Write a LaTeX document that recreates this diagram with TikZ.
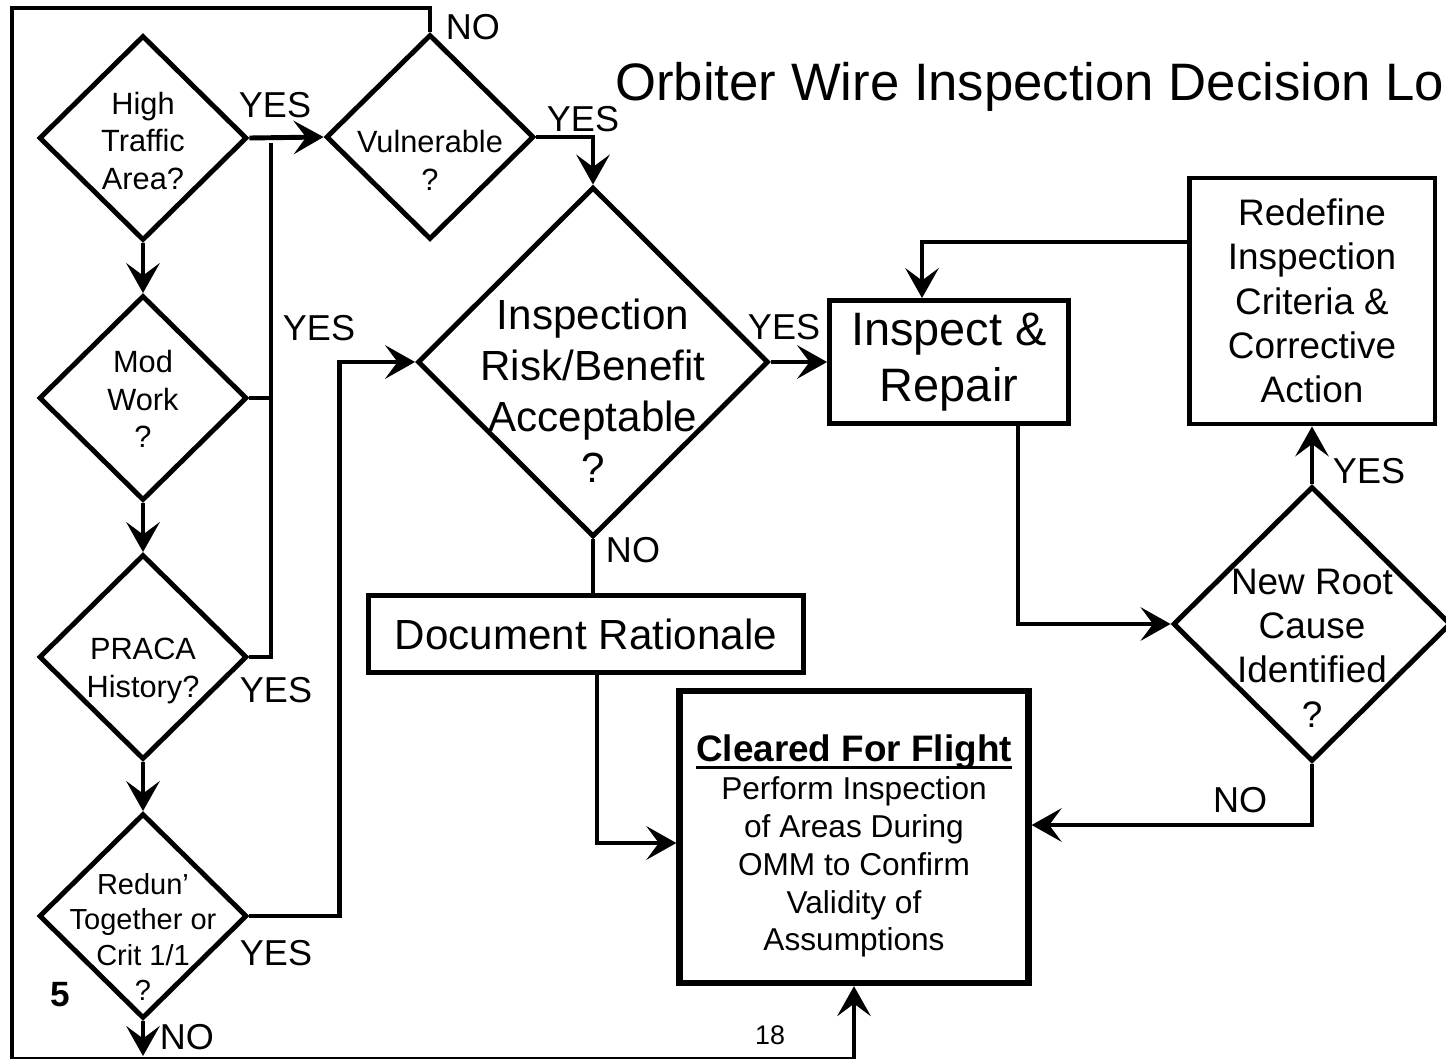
\documentclass[tikz,border=0pt]{standalone}
\usepackage{fontspec}
\setmainfont{Liberation Sans}
\usetikzlibrary{shapes.geometric,arrows.meta}
\newcommand{\thickul}[1]{\setbox0\hbox{#1}\rlap{\vrule height -3pt depth 4.6pt width \wd0}\box0}

\begin{document}
\begin{tikzpicture}[x=0.02cm, y=-0.02cm,
  ask/.style={diamond, draw, line width=2.8pt, inner sep=0pt, minimum width=4.16cm, minimum height=4.1cm},
  box/.style={rectangle, draw, line width=2.8pt, inner sep=0pt, align=center},
  qtext/.style={align=center, inner sep=0pt, font=\fontsize{17.5}{21.5}\selectfont},
  answer/.style={inner sep=0pt, font=\fontsize{20.5}{24}\selectfont},
  link/.style={line width=2.8pt},
  flow/.style={line width=2.8pt, -{Stealth[length=17pt, width=19pt, inset=7pt]}}]
  \useasboundingbox (0,0) rectangle (1446,1058);

  % Title
  \node[anchor=base west, inner sep=0pt, font=\fontsize{30}{36}\selectfont] (title) at (615,100) {Orbiter Wire Inspection Decision Lo};

  % Left column of questions
  \node[ask] (hta) at (143,138) {};
  \node[qtext] (hta-t) at (143,141) {High\\Traffic\\Area?};
  \node[ask] (mod) at (143,398) {};
  \node[qtext] (mod-t) at (143,399) {Mod\\Work\\?};
  \node[ask] (pra) at (143,657) {};
  \node[qtext] (pra-t) at (143,671) {PRACA\\History?};
  \node[ask] (red) at (143,916) {};
  \node[qtext, font=\fontsize{16.5}{20}\selectfont] (red-t) at (143,937) {Redun'\\Together or\\Crit 1/1\\?};

  % Other questions
  \node[ask] (vul) at (430,137) {};
  \node[qtext] (vul-t) at (430,160) {Vulnerable\\?};
  \node[ask, minimum width=7.02cm, minimum height=7cm] (insp) at (593,362) {};
  \node[qtext, font=\fontsize{24}{29}\selectfont] (insp-t) at (593,391) {Inspection\\Risk/Benefit\\Acceptable\\?};
  \node[ask, minimum width=5.56cm, minimum height=5.5cm] (nrc) at (1312,624) {};
  \node[qtext, font=\fontsize{21}{25.2}\selectfont] (nrc-t) at (1312,648) {New Root\\Cause\\Identified\\?};

  % Actions
  \node[box, minimum width=4.78cm, minimum height=2.46cm, font=\fontsize{26.7}{32}\selectfont] (ir) at (949,362) {Inspect \&\\Repair};
  \node[box, minimum width=4.92cm, minimum height=4.92cm, font=\fontsize{21}{25.2}\selectfont] (rdf) at (1312,301) {Redefine\\Inspection\\Criteria \&\\Corrective\\Action};
  \node[box, minimum width=8.7cm, minimum height=1.54cm, font=\fontsize{24}{29}\selectfont] (doc) at (586,634) {Document Rationale};
  \node[box, line width=3.6pt, minimum width=6.98cm, minimum height=5.84cm] (clr) at (854,837) {};
  \node[align=center, inner sep=0pt, font=\fontsize{18}{21.6}\selectfont] (clr-t) at (854,846)
    {{\bfseries\fontsize{21}{25}\selectfont\thickul{Cleared For Flight}}\\Perform Inspection\\of Areas During\\OMM to Confirm\\Validity of\\Assumptions};

  % Answers
  \node[answer] (yes1) at (275,105) {YES};
  \node[answer] (yes2) at (319,328) {YES};
  \node[answer] (yes3) at (276,690) {YES};
  \node[answer] (yes4) at (276,953) {YES};
  \node[answer] (no1) at (187,1037) {NO};
  \node[answer] (no2) at (473,27) {NO};
  \node[answer] (yes5) at (583,119) {YES};
  \node[answer] (yes6) at (784,327) {YES};
  \node[answer] (no3) at (633,550) {NO};
  \node[answer] (yes7) at (1369,471) {YES};
  \node[answer] (no4) at (1240,800) {NO};

  % Page marks
  \node[inner sep=0pt, font=\bfseries\fontsize{20}{24}\selectfont] (five) at (60,995) {5};
  \node[inner sep=0pt, font=\fontsize{15.3}{18}\selectfont] (page) at (770,1035) {18};

  % Left column flow
  \coordinate (jn) at (271,143);
  \coordinate (exit) at (143,1056);
  \draw[flow] (hta.east) -- (vul.west);
  \draw[link] (mod.east) -- (mod.east -| jn);
  \draw[link] (pra.east) -| (jn);
  \draw[flow] (hta.south) -- (mod.north);
  \draw[flow] (mod.south) -- (pra.north);
  \draw[flow] (pra.south) -- (red.north);
  \draw[flow] (red.east) -- ++(90,0) |- (insp.west);
  \draw[flow] (red.south) -- (exit);

  % Vulnerable
  \draw[flow] (vul.north) |- (12,8) -- (12,1059) -| (clr.south);
  \draw[flow] (vul.east) -| (insp.north);

  % Main question
  \draw[flow] (insp.east) -- (ir.west);
  \draw[link] (insp.south) -- (insp.south |- doc.north);
  \draw[flow] (doc.south -| 597,0) |- ([yshift=-0.12cm]clr.west);

  % Repair loop
  \draw[flow] ([xshift=1.38cm]ir.south) |- (nrc.west);
  \draw[flow] (nrc.north) -- (rdf.south);
  \draw[flow] ([yshift=1.18cm]rdf.west) -| ([xshift=-0.54cm]ir.north);
  \draw[flow] (nrc.south) |- ([yshift=0.24cm]clr.east);
\end{tikzpicture}
\end{document}
